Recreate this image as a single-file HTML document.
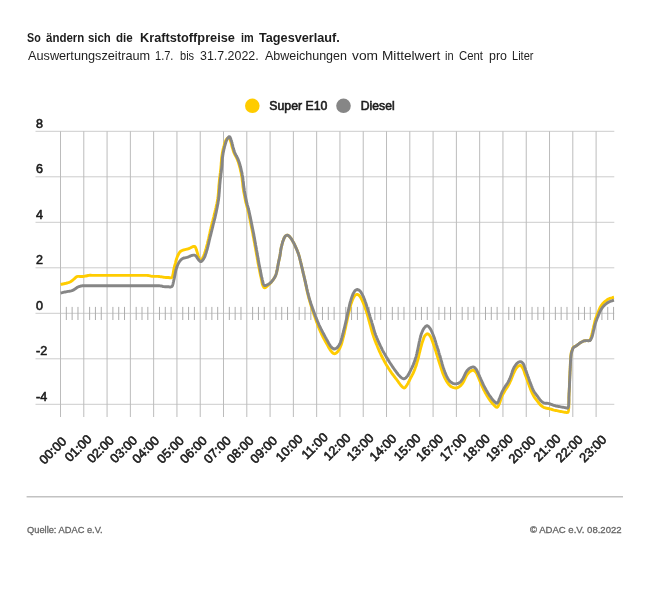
<!DOCTYPE html>
<html lang="de">
<head>
<meta charset="utf-8">
<title>So ändern sich die Kraftstoffpreise im Tagesverlauf</title>
<style>
html,body{margin:0;padding:0;background:#fff;}
body{width:650px;height:591px;position:relative;overflow:hidden;font-family:"Liberation Sans",sans-serif;color:#1c1c1c;}
.t{position:absolute;white-space:nowrap;line-height:1;will-change:transform;}
.t span{position:absolute;top:0;left:0;display:block;transform-origin:0 0;white-space:nowrap;}
#title{left:0;top:32.3px;font-size:12.63px;font-weight:bold;}
#sub{left:0;top:49.2px;font-size:13px;color:#1e1e1e;}
#src{left:26.8px;top:525.5px;font-size:9.3px;color:#666;-webkit-text-stroke:0.3px #666;}
#copy{left:530px;top:525.4px;font-size:9.55px;color:#666;-webkit-text-stroke:0.3px #666;}
svg{position:absolute;left:0;top:0;will-change:transform;}
svg text{font-family:"Liberation Sans",sans-serif;fill:#1c1c1c;}
.yl{font-size:12.5px;stroke:#1c1c1c;stroke-width:0.6px;}
.xl{font-size:12.8px;stroke:#1c1c1c;stroke-width:0.6px;}
.lg{font-size:12.3px;stroke:#1c1c1c;stroke-width:0.6px;}
</style>
</head>
<body>
<div class="t" id="title"><span style="left:27.17px;transform:scaleX(0.8500)">So</span> <span style="left:45.50px;transform:scaleX(0.9087)">ändern</span> <span style="left:87.80px;transform:scaleX(0.9043)">sich</span> <span style="left:115.50px;transform:scaleX(0.9166)">die</span> <span style="left:139.60px;transform:scaleX(1.0098)">Kraftstoffpreise</span> <span style="left:240.60px;transform:scaleX(0.8616)">im</span> <span style="left:258.60px;transform:scaleX(1.0044)">Tagesverlauf.</span></div>
<div class="t" id="sub"><span style="left:27.50px;transform:scaleX(0.9769)">Auswertungszeitraum</span> <span style="left:154.79px;transform:scaleX(0.8500)">1.7.</span> <span style="left:180.02px;transform:scaleX(0.8500)">bis</span> <span style="left:199.70px;transform:scaleX(0.9551)">31.7.2022.</span> <span style="left:264.80px;transform:scaleX(0.9605)">Abweichungen</span> <span style="left:352.02px;transform:scaleX(1.0600)">vom</span> <span style="left:381.55px;transform:scaleX(1.0490)">Mittelwert</span> <span style="left:445.35px;transform:scaleX(0.8500)">in</span> <span style="left:459.20px;transform:scaleX(0.8726)">Cent</span> <span style="left:488.80px;transform:scaleX(0.9537)">pro</span> <span style="left:511.94px;transform:scaleX(0.8500)">Liter</span></div>
<svg width="650" height="591" viewBox="0 0 650 591">
<line x1="35.5" x2="614.3" y1="131.30" y2="131.30" stroke="#cccccc" stroke-width="1"/>
<line x1="35.5" x2="614.3" y1="176.80" y2="176.80" stroke="#cccccc" stroke-width="1"/>
<line x1="35.5" x2="614.3" y1="222.30" y2="222.30" stroke="#cccccc" stroke-width="1"/>
<line x1="35.5" x2="614.3" y1="267.80" y2="267.80" stroke="#cccccc" stroke-width="1"/>
<line x1="35.5" x2="614.3" y1="313.30" y2="313.30" stroke="#cccccc" stroke-width="1"/>
<line x1="35.5" x2="614.3" y1="358.80" y2="358.80" stroke="#cccccc" stroke-width="1"/>
<line x1="35.5" x2="614.3" y1="404.30" y2="404.30" stroke="#cccccc" stroke-width="1"/>
<line x1="60.50" x2="60.50" y1="131.3" y2="417" stroke="#bcbcbc" stroke-width="1"/>
<line x1="83.79" x2="83.79" y1="131.3" y2="417" stroke="#bcbcbc" stroke-width="1"/>
<line x1="107.07" x2="107.07" y1="131.3" y2="417" stroke="#bcbcbc" stroke-width="1"/>
<line x1="130.36" x2="130.36" y1="131.3" y2="417" stroke="#bcbcbc" stroke-width="1"/>
<line x1="153.65" x2="153.65" y1="131.3" y2="417" stroke="#bcbcbc" stroke-width="1"/>
<line x1="176.94" x2="176.94" y1="131.3" y2="417" stroke="#bcbcbc" stroke-width="1"/>
<line x1="200.22" x2="200.22" y1="131.3" y2="417" stroke="#bcbcbc" stroke-width="1"/>
<line x1="223.51" x2="223.51" y1="131.3" y2="417" stroke="#bcbcbc" stroke-width="1"/>
<line x1="246.80" x2="246.80" y1="131.3" y2="417" stroke="#bcbcbc" stroke-width="1"/>
<line x1="270.08" x2="270.08" y1="131.3" y2="417" stroke="#bcbcbc" stroke-width="1"/>
<line x1="293.37" x2="293.37" y1="131.3" y2="417" stroke="#bcbcbc" stroke-width="1"/>
<line x1="316.66" x2="316.66" y1="131.3" y2="417" stroke="#bcbcbc" stroke-width="1"/>
<line x1="339.94" x2="339.94" y1="131.3" y2="417" stroke="#bcbcbc" stroke-width="1"/>
<line x1="363.23" x2="363.23" y1="131.3" y2="417" stroke="#bcbcbc" stroke-width="1"/>
<line x1="386.52" x2="386.52" y1="131.3" y2="417" stroke="#bcbcbc" stroke-width="1"/>
<line x1="409.81" x2="409.81" y1="131.3" y2="417" stroke="#bcbcbc" stroke-width="1"/>
<line x1="433.09" x2="433.09" y1="131.3" y2="417" stroke="#bcbcbc" stroke-width="1"/>
<line x1="456.38" x2="456.38" y1="131.3" y2="417" stroke="#bcbcbc" stroke-width="1"/>
<line x1="479.67" x2="479.67" y1="131.3" y2="417" stroke="#bcbcbc" stroke-width="1"/>
<line x1="502.95" x2="502.95" y1="131.3" y2="417" stroke="#bcbcbc" stroke-width="1"/>
<line x1="526.24" x2="526.24" y1="131.3" y2="417" stroke="#bcbcbc" stroke-width="1"/>
<line x1="549.53" x2="549.53" y1="131.3" y2="417" stroke="#bcbcbc" stroke-width="1"/>
<line x1="572.81" x2="572.81" y1="131.3" y2="417" stroke="#bcbcbc" stroke-width="1"/>
<line x1="596.10" x2="596.10" y1="131.3" y2="417" stroke="#bcbcbc" stroke-width="1"/>
<line x1="66.32" x2="66.32" y1="306.9" y2="320.0" stroke="#adadad" stroke-width="1"/>
<line x1="72.14" x2="72.14" y1="306.9" y2="320.0" stroke="#adadad" stroke-width="1"/>
<line x1="77.97" x2="77.97" y1="306.9" y2="320.0" stroke="#adadad" stroke-width="1"/>
<line x1="89.61" x2="89.61" y1="306.9" y2="320.0" stroke="#adadad" stroke-width="1"/>
<line x1="95.43" x2="95.43" y1="306.9" y2="320.0" stroke="#adadad" stroke-width="1"/>
<line x1="101.25" x2="101.25" y1="306.9" y2="320.0" stroke="#adadad" stroke-width="1"/>
<line x1="112.90" x2="112.90" y1="306.9" y2="320.0" stroke="#adadad" stroke-width="1"/>
<line x1="118.72" x2="118.72" y1="306.9" y2="320.0" stroke="#adadad" stroke-width="1"/>
<line x1="124.54" x2="124.54" y1="306.9" y2="320.0" stroke="#adadad" stroke-width="1"/>
<line x1="136.18" x2="136.18" y1="306.9" y2="320.0" stroke="#adadad" stroke-width="1"/>
<line x1="142.00" x2="142.00" y1="306.9" y2="320.0" stroke="#adadad" stroke-width="1"/>
<line x1="147.83" x2="147.83" y1="306.9" y2="320.0" stroke="#adadad" stroke-width="1"/>
<line x1="159.47" x2="159.47" y1="306.9" y2="320.0" stroke="#adadad" stroke-width="1"/>
<line x1="165.29" x2="165.29" y1="306.9" y2="320.0" stroke="#adadad" stroke-width="1"/>
<line x1="171.11" x2="171.11" y1="306.9" y2="320.0" stroke="#adadad" stroke-width="1"/>
<line x1="182.76" x2="182.76" y1="306.9" y2="320.0" stroke="#adadad" stroke-width="1"/>
<line x1="188.58" x2="188.58" y1="306.9" y2="320.0" stroke="#adadad" stroke-width="1"/>
<line x1="194.40" x2="194.40" y1="306.9" y2="320.0" stroke="#adadad" stroke-width="1"/>
<line x1="206.04" x2="206.04" y1="306.9" y2="320.0" stroke="#adadad" stroke-width="1"/>
<line x1="211.87" x2="211.87" y1="306.9" y2="320.0" stroke="#adadad" stroke-width="1"/>
<line x1="217.69" x2="217.69" y1="306.9" y2="320.0" stroke="#adadad" stroke-width="1"/>
<line x1="229.33" x2="229.33" y1="306.9" y2="320.0" stroke="#adadad" stroke-width="1"/>
<line x1="235.15" x2="235.15" y1="306.9" y2="320.0" stroke="#adadad" stroke-width="1"/>
<line x1="240.97" x2="240.97" y1="306.9" y2="320.0" stroke="#adadad" stroke-width="1"/>
<line x1="252.62" x2="252.62" y1="306.9" y2="320.0" stroke="#adadad" stroke-width="1"/>
<line x1="258.44" x2="258.44" y1="306.9" y2="320.0" stroke="#adadad" stroke-width="1"/>
<line x1="264.26" x2="264.26" y1="306.9" y2="320.0" stroke="#adadad" stroke-width="1"/>
<line x1="275.90" x2="275.90" y1="306.9" y2="320.0" stroke="#adadad" stroke-width="1"/>
<line x1="281.73" x2="281.73" y1="306.9" y2="320.0" stroke="#adadad" stroke-width="1"/>
<line x1="287.55" x2="287.55" y1="306.9" y2="320.0" stroke="#adadad" stroke-width="1"/>
<line x1="299.19" x2="299.19" y1="306.9" y2="320.0" stroke="#adadad" stroke-width="1"/>
<line x1="305.01" x2="305.01" y1="306.9" y2="320.0" stroke="#adadad" stroke-width="1"/>
<line x1="310.84" x2="310.84" y1="306.9" y2="320.0" stroke="#adadad" stroke-width="1"/>
<line x1="322.48" x2="322.48" y1="306.9" y2="320.0" stroke="#adadad" stroke-width="1"/>
<line x1="328.30" x2="328.30" y1="306.9" y2="320.0" stroke="#adadad" stroke-width="1"/>
<line x1="334.12" x2="334.12" y1="306.9" y2="320.0" stroke="#adadad" stroke-width="1"/>
<line x1="345.77" x2="345.77" y1="306.9" y2="320.0" stroke="#adadad" stroke-width="1"/>
<line x1="351.59" x2="351.59" y1="306.9" y2="320.0" stroke="#adadad" stroke-width="1"/>
<line x1="357.41" x2="357.41" y1="306.9" y2="320.0" stroke="#adadad" stroke-width="1"/>
<line x1="369.05" x2="369.05" y1="306.9" y2="320.0" stroke="#adadad" stroke-width="1"/>
<line x1="374.87" x2="374.87" y1="306.9" y2="320.0" stroke="#adadad" stroke-width="1"/>
<line x1="380.70" x2="380.70" y1="306.9" y2="320.0" stroke="#adadad" stroke-width="1"/>
<line x1="392.34" x2="392.34" y1="306.9" y2="320.0" stroke="#adadad" stroke-width="1"/>
<line x1="398.16" x2="398.16" y1="306.9" y2="320.0" stroke="#adadad" stroke-width="1"/>
<line x1="403.98" x2="403.98" y1="306.9" y2="320.0" stroke="#adadad" stroke-width="1"/>
<line x1="415.63" x2="415.63" y1="306.9" y2="320.0" stroke="#adadad" stroke-width="1"/>
<line x1="421.45" x2="421.45" y1="306.9" y2="320.0" stroke="#adadad" stroke-width="1"/>
<line x1="427.27" x2="427.27" y1="306.9" y2="320.0" stroke="#adadad" stroke-width="1"/>
<line x1="438.91" x2="438.91" y1="306.9" y2="320.0" stroke="#adadad" stroke-width="1"/>
<line x1="444.74" x2="444.74" y1="306.9" y2="320.0" stroke="#adadad" stroke-width="1"/>
<line x1="450.56" x2="450.56" y1="306.9" y2="320.0" stroke="#adadad" stroke-width="1"/>
<line x1="462.20" x2="462.20" y1="306.9" y2="320.0" stroke="#adadad" stroke-width="1"/>
<line x1="468.02" x2="468.02" y1="306.9" y2="320.0" stroke="#adadad" stroke-width="1"/>
<line x1="473.84" x2="473.84" y1="306.9" y2="320.0" stroke="#adadad" stroke-width="1"/>
<line x1="485.49" x2="485.49" y1="306.9" y2="320.0" stroke="#adadad" stroke-width="1"/>
<line x1="491.31" x2="491.31" y1="306.9" y2="320.0" stroke="#adadad" stroke-width="1"/>
<line x1="497.13" x2="497.13" y1="306.9" y2="320.0" stroke="#adadad" stroke-width="1"/>
<line x1="508.77" x2="508.77" y1="306.9" y2="320.0" stroke="#adadad" stroke-width="1"/>
<line x1="514.60" x2="514.60" y1="306.9" y2="320.0" stroke="#adadad" stroke-width="1"/>
<line x1="520.42" x2="520.42" y1="306.9" y2="320.0" stroke="#adadad" stroke-width="1"/>
<line x1="532.06" x2="532.06" y1="306.9" y2="320.0" stroke="#adadad" stroke-width="1"/>
<line x1="537.88" x2="537.88" y1="306.9" y2="320.0" stroke="#adadad" stroke-width="1"/>
<line x1="543.71" x2="543.71" y1="306.9" y2="320.0" stroke="#adadad" stroke-width="1"/>
<line x1="555.35" x2="555.35" y1="306.9" y2="320.0" stroke="#adadad" stroke-width="1"/>
<line x1="561.17" x2="561.17" y1="306.9" y2="320.0" stroke="#adadad" stroke-width="1"/>
<line x1="566.99" x2="566.99" y1="306.9" y2="320.0" stroke="#adadad" stroke-width="1"/>
<line x1="578.64" x2="578.64" y1="306.9" y2="320.0" stroke="#adadad" stroke-width="1"/>
<line x1="584.46" x2="584.46" y1="306.9" y2="320.0" stroke="#adadad" stroke-width="1"/>
<line x1="590.28" x2="590.28" y1="306.9" y2="320.0" stroke="#adadad" stroke-width="1"/>
<line x1="601.92" x2="601.92" y1="306.9" y2="320.0" stroke="#adadad" stroke-width="1"/>
<line x1="607.74" x2="607.74" y1="306.9" y2="320.0" stroke="#adadad" stroke-width="1"/>
<line x1="613.57" x2="613.57" y1="306.9" y2="320.0" stroke="#adadad" stroke-width="1"/>
<text x="36" y="127.5" class="yl">8</text>
<text x="36" y="173.0" class="yl">6</text>
<text x="36" y="218.5" class="yl">4</text>
<text x="36" y="264.0" class="yl">2</text>
<text x="36" y="309.5" class="yl">0</text>
<text x="36" y="355.0" class="yl">-2</text>
<text x="36" y="400.5" class="yl">-4</text>
<text transform="translate(52.65,450.35) rotate(-45)" y="4.55" text-anchor="middle" class="xl">00:00</text>
<text transform="translate(78.00,448.05) rotate(-45)" y="4.55" text-anchor="middle" class="xl">01:00</text>
<text transform="translate(100.35,449.25) rotate(-45)" y="4.55" text-anchor="middle" class="xl">02:00</text>
<text transform="translate(123.45,449.25) rotate(-45)" y="4.55" text-anchor="middle" class="xl">03:00</text>
<text transform="translate(145.60,449.60) rotate(-45)" y="4.55" text-anchor="middle" class="xl">04:00</text>
<text transform="translate(170.35,449.60) rotate(-45)" y="4.55" text-anchor="middle" class="xl">05:00</text>
<text transform="translate(193.35,449.60) rotate(-45)" y="4.55" text-anchor="middle" class="xl">06:00</text>
<text transform="translate(217.15,449.60) rotate(-45)" y="4.55" text-anchor="middle" class="xl">07:00</text>
<text transform="translate(240.05,449.60) rotate(-45)" y="4.55" text-anchor="middle" class="xl">08:00</text>
<text transform="translate(263.55,449.60) rotate(-45)" y="4.55" text-anchor="middle" class="xl">09:00</text>
<text transform="translate(289.05,447.85) rotate(-45)" y="4.55" text-anchor="middle" class="xl">10:00</text>
<text transform="translate(314.45,445.80) rotate(-45)" y="4.55" text-anchor="middle" class="xl">11:00</text>
<text transform="translate(336.90,446.70) rotate(-45)" y="4.55" text-anchor="middle" class="xl">12:00</text>
<text transform="translate(360.00,446.90) rotate(-45)" y="4.55" text-anchor="middle" class="xl">13:00</text>
<text transform="translate(382.85,447.50) rotate(-45)" y="4.55" text-anchor="middle" class="xl">14:00</text>
<text transform="translate(407.00,446.95) rotate(-45)" y="4.55" text-anchor="middle" class="xl">15:00</text>
<text transform="translate(429.45,447.50) rotate(-45)" y="4.55" text-anchor="middle" class="xl">16:00</text>
<text transform="translate(453.10,447.15) rotate(-45)" y="4.55" text-anchor="middle" class="xl">17:00</text>
<text transform="translate(476.20,447.50) rotate(-45)" y="4.55" text-anchor="middle" class="xl">18:00</text>
<text transform="translate(499.30,447.50) rotate(-45)" y="4.55" text-anchor="middle" class="xl">19:00</text>
<text transform="translate(521.95,449.40) rotate(-45)" y="4.55" text-anchor="middle" class="xl">20:00</text>
<text transform="translate(546.90,447.65) rotate(-45)" y="4.55" text-anchor="middle" class="xl">21:00</text>
<text transform="translate(568.95,448.55) rotate(-45)" y="4.55" text-anchor="middle" class="xl">22:00</text>
<text transform="translate(592.70,448.55) rotate(-45)" y="4.55" text-anchor="middle" class="xl">23:00</text>
<polyline points="60.6,284.4 61.7,284.2 62.8,284.0 63.9,283.8 65.0,283.5 66.0,283.3 67.0,283.0 68.1,282.7 69.1,282.4 70.0,282.0 70.9,281.5 71.8,280.8 72.7,280.2 73.5,279.5 74.2,278.9 74.9,278.2 75.5,277.6 76.3,277.0 77.0,276.6 78.0,276.4 79.0,276.4 80.0,276.5 81.0,276.5 82.0,276.5 83.0,276.5 84.0,276.4 84.9,276.2 85.9,276.0 87.0,275.8 88.0,275.5 89.0,275.4 89.9,275.3 90.8,275.3 91.8,275.4 93.0,275.4 93.6,275.4 94.2,275.4 95.0,275.4 95.7,275.4 96.5,275.4 97.4,275.4 98.3,275.4 99.3,275.4 100.3,275.4 101.3,275.4 102.4,275.4 103.4,275.4 104.5,275.4 105.7,275.4 106.8,275.4 107.9,275.4 109.1,275.4 110.2,275.4 111.4,275.4 112.5,275.4 113.6,275.4 114.8,275.4 115.9,275.4 116.9,275.4 118.0,275.4 119.0,275.4 120.0,275.4 121.0,275.4 122.1,275.4 123.2,275.4 124.3,275.4 125.4,275.4 126.6,275.4 127.7,275.4 128.9,275.4 130.0,275.4 131.1,275.4 132.2,275.4 133.3,275.4 134.4,275.4 135.5,275.4 136.5,275.4 137.5,275.4 138.5,275.4 139.5,275.4 140.3,275.4 141.2,275.4 142.0,275.4 142.7,275.4 143.4,275.4 144.0,275.4 145.2,275.4 146.2,275.4 147.0,275.4 148.0,275.5 149.0,275.6 150.0,275.8 151.1,276.1 152.1,276.3 153.0,276.4 154.1,276.4 155.0,276.4 156.0,276.4 157.0,276.4 157.9,276.4 159.0,276.5 159.9,276.6 160.9,276.8 162.0,276.9 163.0,277.1 164.1,277.3 165.0,277.4 165.9,277.5 166.8,277.5 167.7,277.5 168.5,277.5 169.6,277.7 170.7,277.9 171.6,277.6 172.0,277.2 172.3,276.5 172.6,275.7 172.9,274.8 173.1,273.7 173.3,272.6 173.5,271.4 173.7,270.2 173.9,269.1 174.2,268.0 174.4,267.0 174.7,266.0 174.9,264.9 175.2,263.9 175.5,262.8 175.7,261.8 176.0,260.7 176.3,259.7 176.6,258.8 176.9,257.9 177.2,257.0 177.6,256.0 178.1,255.0 178.6,254.0 179.1,253.1 179.6,252.4 180.2,251.7 180.9,251.1 181.7,250.7 182.5,250.3 183.3,250.0 184.1,249.8 185.0,249.6 186.0,249.4 186.9,249.2 187.8,249.0 188.8,248.6 189.7,248.2 190.7,247.7 191.6,247.2 192.4,246.9 193.6,246.4 194.7,246.4 195.2,246.8 195.6,247.6 196.0,248.5 196.3,249.6 196.7,250.7 197.0,251.7 197.3,252.7 197.6,253.7 197.9,254.8 198.2,255.9 198.5,256.9 198.9,257.8 199.2,258.6 199.7,259.5 200.2,260.3 200.8,260.6 201.3,260.3 201.8,259.7 202.3,258.8 202.8,257.7 203.3,256.6 203.8,255.5 204.1,254.7 204.4,253.9 204.7,253.0 205.0,252.1 205.3,251.2 205.6,250.2 205.9,249.3 206.2,248.3 206.5,247.2 206.7,246.2 207.0,245.1 207.3,244.1 207.5,243.2 207.8,242.3 208.0,241.3 208.2,240.4 208.4,239.4 208.7,238.4 208.9,237.4 209.1,236.4 209.3,235.4 209.5,234.4 209.8,233.4 210.0,232.4 210.2,231.3 210.4,230.3 210.6,229.3 210.9,228.4 211.1,227.4 211.3,226.4 211.6,225.5 211.8,224.5 212.1,223.5 212.3,222.6 212.5,221.6 212.8,220.6 213.0,219.7 213.3,218.7 213.5,217.8 213.8,216.8 214.0,215.9 214.2,215.0 214.5,214.0 214.7,213.1 214.9,212.2 215.1,211.2 215.4,210.1 215.6,209.1 215.9,208.1 216.1,207.1 216.3,206.1 216.5,205.1 216.8,204.1 217.0,203.1 217.2,202.1 217.4,201.1 217.5,200.1 217.7,199.0 217.8,198.0 218.0,197.1 218.1,196.1 218.2,195.1 218.3,194.1 218.4,193.0 218.5,192.0 218.5,191.0 218.6,189.9 218.7,188.9 218.8,187.9 218.8,186.9 218.9,185.8 219.0,184.8 219.1,183.8 219.2,182.8 219.3,181.8 219.4,180.7 219.5,179.7 219.6,178.7 219.8,177.6 219.9,176.6 220.0,175.6 220.1,174.6 220.2,173.5 220.4,172.5 220.5,171.5 220.6,170.5 220.7,169.5 220.8,168.6 220.9,167.6 221.0,166.5 221.1,165.5 221.2,164.4 221.2,163.4 221.3,162.4 221.4,161.4 221.5,160.3 221.5,159.3 221.6,158.4 221.7,157.4 221.9,156.4 222.0,155.4 222.2,154.4 222.3,153.4 222.5,152.4 222.7,151.3 222.9,150.3 223.1,149.3 223.3,148.4 223.6,147.4 223.8,146.5 224.1,145.6 224.3,144.8 224.6,143.7 225.0,142.6 225.3,141.6 225.7,140.7 226.1,139.9 226.6,139.2 227.3,138.4 228.1,137.8 228.8,137.6 229.4,138.2 229.9,139.3 230.4,140.6 230.7,141.5 231.0,142.4 231.3,143.5 231.6,144.6 231.8,145.7 232.1,146.8 232.4,147.8 232.7,148.7 233.0,149.7 233.2,150.5 233.5,151.4 233.8,152.3 234.2,153.2 234.6,154.0 235.0,154.9 235.5,155.7 235.9,156.6 236.4,157.4 236.8,158.3 237.2,159.2 237.6,160.1 237.9,161.1 238.3,162.0 238.6,163.0 238.9,164.0 239.2,165.0 239.5,166.1 239.7,167.0 240.0,167.9 240.2,168.8 240.4,169.7 240.6,170.7 240.8,171.7 241.1,172.7 241.3,173.7 241.4,174.7 241.6,175.7 241.8,176.7 242.0,177.7 242.1,178.7 242.2,179.7 242.3,180.7 242.5,181.7 242.6,182.7 242.7,183.8 242.8,184.8 242.9,185.8 243.0,186.9 243.2,187.9 243.3,188.9 243.5,189.9 243.6,190.9 243.8,192.0 244.0,193.0 244.2,194.0 244.4,195.0 244.6,196.1 244.8,197.1 245.0,198.1 245.2,199.1 245.4,200.1 245.6,201.1 245.8,202.1 246.0,203.0 246.3,203.9 246.5,204.8 246.8,205.8 247.0,206.7 247.3,207.6 247.5,208.5 247.8,209.5 248.0,210.5 248.3,211.5 248.5,212.5 248.7,213.4 248.9,214.3 249.1,215.2 249.3,216.1 249.5,217.1 249.7,218.1 249.9,219.0 250.1,220.0 250.3,221.0 250.5,222.0 250.7,223.0 250.9,224.1 251.1,225.1 251.3,226.1 251.5,227.1 251.7,228.1 251.9,229.0 252.1,230.0 252.3,231.0 252.5,232.0 252.7,233.0 252.9,233.9 253.0,234.9 253.2,235.9 253.4,236.9 253.6,237.9 253.8,238.8 253.9,239.8 254.1,240.8 254.3,241.8 254.5,242.8 254.7,243.7 254.8,244.7 255.0,245.7 255.2,246.7 255.4,247.7 255.6,248.7 255.7,249.7 255.9,250.7 256.1,251.7 256.3,252.7 256.4,253.8 256.6,254.8 256.8,255.8 257.0,256.8 257.2,257.8 257.3,258.8 257.5,259.8 257.7,260.7 257.8,261.6 258.0,262.5 258.1,263.4 258.3,264.2 258.5,265.3 258.7,266.3 258.9,267.3 259.1,268.2 259.3,269.1 259.5,270.0 259.6,270.9 259.8,271.8 260.0,272.7 260.2,273.8 260.4,274.8 260.6,275.8 260.9,276.8 261.1,277.8 261.3,278.8 261.5,279.8 261.7,280.8 261.9,281.9 262.1,282.9 262.3,283.9 262.6,284.8 262.9,285.6 263.4,286.6 263.9,287.4 264.6,287.8 265.3,287.6 266.1,287.0 266.9,286.3 267.7,285.6 268.4,285.0 269.2,284.4 269.9,283.7 270.6,283.0 271.3,282.2 271.9,281.4 272.6,280.5 273.2,279.7 273.8,278.8 274.4,277.9 274.9,276.9 275.4,276.0 275.8,275.0 276.1,274.1 276.3,273.3 276.6,272.4 276.8,271.4 277.0,270.4 277.2,269.6 277.4,268.7 277.5,267.7 277.7,266.7 277.9,265.8 278.1,264.8 278.3,263.8 278.4,262.9 278.6,262.0 278.8,261.0 279.0,260.1 279.2,259.2 279.4,258.4 279.6,257.5 279.8,256.5 280.0,255.6 280.1,254.6 280.3,253.5 280.4,252.5 280.6,251.4 280.7,250.4 280.9,249.3 281.1,248.3 281.3,247.3 281.5,246.4 281.8,245.4 282.0,244.4 282.3,243.4 282.5,242.5 282.8,241.5 283.1,240.7 283.4,239.9 283.8,238.9 284.2,237.9 284.7,237.1 285.2,236.3 285.7,235.8 286.8,235.3 287.9,235.3 288.7,235.7 289.5,236.5 290.2,237.4 291.0,238.4 291.5,239.1 292.0,239.9 292.5,240.7 292.9,241.5 293.4,242.4 293.9,243.3 294.3,244.3 294.8,245.2 295.2,246.0 295.6,246.9 296.0,247.8 296.4,248.7 296.8,249.6 297.2,250.5 297.5,251.5 297.9,252.4 298.3,253.4 298.6,254.4 298.9,255.3 299.2,256.3 299.5,257.3 299.7,258.3 300.0,259.3 300.2,260.3 300.5,261.3 300.7,262.3 301.0,263.4 301.2,264.4 301.4,265.4 301.7,266.5 301.9,267.4 302.1,268.3 302.4,269.3 302.6,270.2 302.8,271.2 303.0,272.1 303.2,273.1 303.5,274.0 303.7,275.0 303.9,276.0 304.1,276.9 304.3,277.9 304.6,278.9 304.8,279.8 305.0,280.8 305.2,281.7 305.4,282.7 305.6,283.7 305.8,284.6 306.0,285.6 306.2,286.6 306.4,287.5 306.6,288.5 306.8,289.5 307.0,290.4 307.2,291.4 307.4,292.3 307.7,293.3 307.9,294.2 308.1,295.1 308.3,296.0 308.6,297.0 308.8,298.0 309.1,299.0 309.4,299.9 309.6,300.9 309.9,301.8 310.2,302.8 310.5,303.7 310.7,304.6 311.0,305.5 311.3,306.5 311.6,307.4 311.9,308.4 312.2,309.4 312.6,310.4 312.9,311.4 313.3,312.4 313.6,313.4 313.9,314.4 314.3,315.3 314.6,316.3 315.0,317.3 315.3,318.2 315.6,319.2 316.0,320.1 316.3,321.0 316.6,322.0 317.0,322.9 317.3,323.8 317.6,324.7 318.0,325.7 318.3,326.6 318.7,327.5 319.1,328.4 319.5,329.4 319.9,330.3 320.3,331.3 320.7,332.2 321.2,333.2 321.6,334.1 322.0,335.0 322.5,335.9 322.9,336.8 323.4,337.7 323.8,338.6 324.3,339.4 324.8,340.3 325.2,341.1 325.7,342.0 326.2,342.8 326.6,343.6 327.1,344.4 327.6,345.3 328.1,346.2 328.5,347.1 329.0,348.0 329.5,348.8 330.0,349.6 330.5,350.3 331.2,351.2 331.9,352.1 332.7,352.8 333.4,353.4 334.2,353.7 335.0,353.6 335.8,353.2 336.6,352.7 337.3,352.0 337.9,351.4 338.4,350.6 338.9,349.8 339.4,348.9 339.9,348.0 340.3,347.0 340.6,346.2 341.0,345.4 341.3,344.5 341.6,343.6 341.9,342.6 342.1,341.6 342.4,340.7 342.7,339.7 342.9,338.7 343.2,337.7 343.5,336.7 343.7,335.8 343.9,334.8 344.2,333.8 344.4,332.8 344.6,331.8 344.8,330.8 345.0,329.8 345.3,328.7 345.5,327.7 345.7,326.7 345.9,325.7 346.1,324.7 346.3,323.7 346.6,322.7 346.8,321.7 347.0,320.7 347.2,319.7 347.4,318.7 347.6,317.7 347.9,316.7 348.1,315.8 348.3,314.8 348.5,313.7 348.8,312.7 349.0,311.6 349.3,310.6 349.5,309.6 349.7,308.5 350.0,307.5 350.3,306.6 350.5,305.6 350.8,304.7 351.1,303.6 351.5,302.6 351.9,301.5 352.2,300.5 352.6,299.6 353.0,298.7 353.4,297.9 353.9,297.0 354.4,296.2 354.9,295.5 355.5,295.0 356.5,294.5 357.6,294.5 358.5,294.9 359.3,295.7 360.1,296.7 360.6,297.4 361.1,298.2 361.5,299.1 362.0,300.0 362.4,301.0 362.9,302.0 363.2,302.8 363.6,303.6 363.9,304.5 364.3,305.4 364.6,306.3 365.0,307.3 365.3,308.3 365.6,309.2 366.0,310.2 366.3,311.2 366.6,312.2 366.9,313.1 367.2,314.0 367.4,315.0 367.7,315.9 368.0,316.8 368.3,317.8 368.5,318.8 368.8,319.7 369.0,320.7 369.3,321.6 369.6,322.6 369.8,323.6 370.1,324.5 370.4,325.5 370.7,326.5 370.9,327.5 371.2,328.5 371.5,329.5 371.7,330.5 372.0,331.5 372.3,332.5 372.6,333.5 372.9,334.5 373.2,335.4 373.5,336.4 373.8,337.3 374.2,338.3 374.5,339.2 374.9,340.2 375.2,341.1 375.6,342.0 375.9,342.9 376.3,343.8 376.7,344.7 377.1,345.6 377.4,346.5 377.8,347.4 378.2,348.4 378.6,349.3 379.0,350.3 379.4,351.2 379.8,352.1 380.3,353.0 380.7,354.0 381.1,354.9 381.5,355.8 382.0,356.7 382.4,357.6 382.9,358.4 383.3,359.3 383.8,360.1 384.2,361.0 384.7,361.9 385.2,362.7 385.7,363.6 386.1,364.4 386.6,365.2 387.1,366.0 387.6,366.9 388.2,367.8 388.7,368.6 389.3,369.5 389.8,370.3 390.4,371.2 391.0,372.0 391.5,372.8 392.1,373.6 392.7,374.5 393.4,375.3 394.0,376.2 394.7,377.0 395.3,377.9 396.0,378.7 396.6,379.5 397.2,380.3 397.8,381.2 398.4,382.0 399.0,382.9 399.6,383.7 400.2,384.5 400.8,385.3 401.4,385.9 402.1,386.7 402.9,387.4 403.6,387.9 404.3,388.0 404.9,387.7 405.6,387.0 406.2,386.1 406.8,385.2 407.4,384.2 407.9,383.4 408.4,382.5 408.8,381.6 409.3,380.7 409.8,379.7 410.2,378.7 410.7,377.8 411.1,377.0 411.6,376.2 412.0,375.3 412.4,374.5 412.9,373.7 413.3,372.8 413.7,371.9 414.1,371.0 414.4,370.2 414.8,369.3 415.1,368.4 415.4,367.5 415.7,366.6 416.1,365.6 416.4,364.7 416.7,363.7 416.9,362.8 417.2,361.8 417.5,360.9 417.8,360.0 418.0,359.0 418.2,358.1 418.5,357.2 418.7,356.2 418.9,355.3 419.1,354.4 419.3,353.4 419.5,352.5 419.8,351.6 420.0,350.7 420.2,349.7 420.5,348.8 420.7,347.8 421.0,346.8 421.3,345.9 421.5,344.9 421.8,344.0 422.0,343.1 422.3,342.2 422.6,341.4 423.0,340.3 423.4,339.2 423.7,338.1 424.1,337.1 424.6,336.2 425.1,335.5 425.9,334.6 426.8,334.0 427.7,333.8 428.6,334.2 429.4,335.1 430.2,336.2 430.6,336.9 431.0,337.6 431.4,338.5 431.7,339.4 432.1,340.3 432.4,341.3 432.8,342.3 433.1,343.3 433.5,344.3 433.8,345.2 434.1,346.1 434.5,347.1 434.8,348.0 435.1,349.0 435.4,350.0 435.7,350.9 436.0,351.9 436.3,352.9 436.6,353.8 436.9,354.8 437.2,355.7 437.5,356.7 437.8,357.6 438.1,358.5 438.4,359.5 438.6,360.4 438.9,361.3 439.2,362.2 439.5,363.2 439.8,364.1 440.1,365.0 440.4,365.9 440.7,366.9 441.0,367.8 441.3,368.7 441.6,369.7 441.9,370.6 442.2,371.5 442.5,372.4 442.8,373.3 443.2,374.2 443.5,375.0 443.9,375.9 444.3,376.8 444.7,377.7 445.1,378.6 445.6,379.4 446.0,380.2 446.4,381.0 446.9,381.7 447.5,382.7 448.2,383.6 448.9,384.5 449.6,385.3 450.3,386.0 451.1,386.6 452.0,387.0 452.9,387.4 453.7,387.7 454.5,387.9 455.4,388.0 456.2,388.0 457.0,387.8 457.9,387.5 458.8,387.0 459.6,386.5 460.3,385.9 461.0,385.2 461.7,384.4 462.4,383.5 463.0,382.6 463.5,381.8 463.9,381.0 464.3,380.1 464.7,379.2 465.1,378.3 465.5,377.5 465.9,376.7 466.4,375.8 466.9,375.0 467.5,374.2 468.0,373.5 468.6,372.8 469.5,371.9 470.5,371.2 471.4,370.7 472.5,370.4 473.6,370.4 474.4,370.8 475.2,371.5 476.0,372.4 476.5,373.1 476.9,373.9 477.3,374.9 477.7,375.8 478.2,376.9 478.6,377.9 479.0,378.9 479.4,379.7 479.7,380.6 480.1,381.5 480.5,382.4 480.9,383.3 481.2,384.2 481.6,385.1 482.0,385.9 482.4,386.8 482.8,387.7 483.2,388.5 483.6,389.4 484.0,390.3 484.5,391.1 484.9,391.9 485.3,392.8 485.8,393.6 486.3,394.5 486.8,395.3 487.3,396.2 487.8,397.0 488.4,397.9 488.9,398.7 489.4,399.5 490.0,400.3 490.6,401.1 491.2,401.9 491.8,402.7 492.5,403.5 493.1,404.2 493.7,404.8 494.3,405.4 495.3,406.3 496.2,407.1 497.1,407.3 497.7,406.9 498.3,406.0 498.8,404.9 499.3,403.7 499.6,402.9 500.0,402.0 500.3,401.1 500.6,400.1 500.9,399.1 501.3,398.1 501.6,397.1 502.0,396.2 502.4,395.3 502.9,394.4 503.3,393.5 503.8,392.7 504.3,391.9 504.7,391.1 505.2,390.3 505.7,389.4 506.3,388.6 506.8,387.8 507.4,387.0 507.9,386.1 508.4,385.2 508.9,384.3 509.4,383.3 509.9,382.3 510.3,381.3 510.8,380.3 511.2,379.4 511.5,378.5 511.9,377.6 512.2,376.7 512.6,375.7 513.0,374.8 513.3,373.9 513.7,373.1 514.2,372.1 514.6,371.1 515.1,370.2 515.6,369.3 516.1,368.5 516.6,367.8 517.3,367.0 518.0,366.4 518.7,365.9 519.7,365.5 520.6,365.5 521.3,366.0 521.9,366.8 522.5,367.8 523.1,368.8 523.5,369.6 523.9,370.6 524.2,371.5 524.5,372.5 524.8,373.6 525.2,374.6 525.5,375.5 525.9,376.5 526.3,377.5 526.6,378.5 527.0,379.5 527.4,380.5 527.7,381.5 528.1,382.5 528.5,383.5 528.8,384.5 529.2,385.5 529.5,386.5 529.9,387.5 530.3,388.5 530.6,389.5 531.0,390.4 531.4,391.4 531.9,392.4 532.3,393.4 532.8,394.4 533.3,395.3 533.8,396.2 534.3,397.1 534.9,397.9 535.5,398.8 536.2,399.6 536.8,400.4 537.4,401.2 538.0,402.0 538.6,402.7 539.2,403.5 539.8,404.2 540.4,404.9 541.0,405.5 541.9,406.2 542.7,406.8 543.6,407.3 544.6,407.7 545.4,408.0 546.3,408.2 547.2,408.3 548.1,408.5 549.0,408.7 550.0,409.0 551.0,409.2 552.0,409.5 553.0,409.8 554.0,410.1 554.9,410.3 555.9,410.5 556.8,410.7 557.8,410.9 558.7,411.1 559.7,411.3 560.7,411.5 561.7,411.7 562.8,411.9 563.8,412.1 564.7,412.2 565.5,412.3 566.7,412.6 567.7,412.4 568.0,412.1 568.2,411.6 568.4,410.9 568.5,410.2 568.6,409.3 568.7,408.3 568.8,407.2 568.8,406.1 568.8,404.9 568.9,403.7 568.9,402.4 568.9,401.1 568.9,399.8 568.9,398.6 568.9,397.3 568.9,396.1 569.0,395.0 569.1,394.1 569.1,393.1 569.1,392.2 569.2,391.2 569.2,390.2 569.3,389.2 569.3,388.2 569.4,387.2 569.4,386.1 569.4,385.1 569.5,384.1 569.5,383.0 569.5,382.0 569.6,381.0 569.6,379.9 569.7,378.9 569.7,377.9 569.7,376.8 569.8,375.8 569.8,374.8 569.9,373.9 569.9,372.9 570.0,371.9 570.0,371.0 570.1,369.9 570.1,368.8 570.2,367.7 570.2,366.6 570.3,365.4 570.3,364.3 570.4,363.2 570.4,362.1 570.5,361.0 570.5,359.9 570.6,358.9 570.7,357.9 570.7,356.9 570.8,356.0 570.9,355.2 571.0,354.4 571.1,353.7 571.2,353.0 571.4,351.9 571.7,350.9 572.0,350.2 572.3,349.4 572.7,348.3 573.2,347.4 573.9,346.9 574.7,346.5 575.6,346.1 576.5,345.6 577.2,345.1 578.0,344.5 578.8,343.9 579.5,343.3 580.3,342.8 581.2,342.2 582.2,341.7 583.2,341.2 584.1,340.9 585.2,340.7 586.3,340.6 587.3,340.6 588.6,340.7 589.7,340.4 590.2,339.9 590.5,339.1 590.9,338.2 591.1,337.2 591.4,336.1 591.7,335.1 592.0,334.2 592.2,333.2 592.5,332.2 592.7,331.1 592.9,330.0 593.1,329.0 593.4,327.9 593.6,326.9 593.8,325.9 594.1,325.0 594.3,324.0 594.5,323.1 594.7,322.1 595.0,321.2 595.2,320.2 595.5,319.3 595.8,318.3 596.2,317.2 596.6,316.2 596.9,315.2 597.3,314.2 597.7,313.3 598.1,312.3 598.5,311.3 598.9,310.3 599.3,309.3 599.7,308.4 600.1,307.5 600.6,306.6 601.2,305.7 601.8,304.8 602.4,304.0 603.1,303.2 603.8,302.5 604.5,301.8 605.3,301.2 606.1,300.6 606.8,300.1 607.6,299.6 608.4,299.1 609.2,298.7 610.0,298.4 610.8,298.1 611.9,297.8 612.9,297.5 614.0,297.3" fill="none" stroke="#ffcc00" stroke-width="2.9" stroke-linejoin="round" stroke-linecap="butt"/>
<polyline points="60.6,293.0 61.5,292.8 62.4,292.6 63.3,292.4 64.2,292.2 65.1,292.0 66.0,291.8 67.0,291.6 68.1,291.4 69.1,291.3 70.2,291.1 71.1,290.9 72.0,290.6 73.1,290.1 74.1,289.6 75.0,289.0 75.7,288.5 76.5,288.0 77.2,287.4 78.0,287.0 78.9,286.6 79.9,286.3 81.0,286.0 82.0,285.8 82.9,285.7 83.8,285.7 84.7,285.8 86.0,285.8 86.5,285.8 87.1,285.8 87.8,285.8 88.5,285.8 89.2,285.8 90.0,285.8 90.8,285.8 91.7,285.8 92.6,285.8 93.5,285.8 94.5,285.8 95.5,285.8 96.5,285.8 97.6,285.8 98.7,285.8 99.7,285.8 100.9,285.8 102.0,285.8 103.1,285.8 104.3,285.8 105.4,285.8 106.6,285.8 107.8,285.8 108.9,285.8 110.1,285.8 111.2,285.8 112.4,285.8 113.5,285.8 114.6,285.8 115.8,285.8 116.8,285.8 117.9,285.8 119.0,285.8 120.0,285.8 121.0,285.8 122.0,285.8 123.1,285.8 124.2,285.8 125.2,285.8 126.4,285.8 127.5,285.8 128.6,285.8 129.8,285.8 130.9,285.8 132.1,285.8 133.3,285.8 134.4,285.8 135.6,285.8 136.8,285.8 137.9,285.8 139.1,285.8 140.2,285.8 141.3,285.8 142.4,285.8 143.5,285.8 144.6,285.8 145.6,285.8 146.6,285.8 147.6,285.8 148.6,285.8 149.5,285.8 150.4,285.8 151.3,285.8 152.1,285.8 152.8,285.8 153.6,285.8 154.3,285.8 154.9,285.8 155.5,285.8 156.0,285.8 157.3,285.8 158.3,285.8 159.1,285.8 160.0,285.9 161.0,286.0 162.0,286.2 163.0,286.5 164.0,286.6 165.0,286.7 166.0,286.7 167.0,286.7 168.0,286.7 168.9,286.8 169.9,287.0 170.8,287.0 171.6,286.7 172.1,286.2 172.5,285.5 172.8,284.6 173.1,283.6 173.3,282.5 173.6,281.3 173.8,280.2 174.1,279.1 174.3,278.2 174.5,277.3 174.7,276.3 174.9,275.3 175.1,274.3 175.3,273.3 175.5,272.2 175.7,271.3 175.9,270.3 176.1,269.4 176.4,268.5 176.7,267.5 177.1,266.6 177.4,265.6 177.8,264.7 178.2,263.9 178.6,263.1 179.1,262.3 179.5,261.6 180.2,260.7 180.9,259.9 181.6,259.2 182.5,258.6 183.3,258.2 184.1,258.0 185.0,257.8 186.0,257.6 186.9,257.4 187.8,257.1 188.7,256.8 189.7,256.3 190.6,255.9 191.6,255.5 192.4,255.3 193.2,255.1 194.4,255.1 195.4,255.5 196.0,256.1 196.6,256.9 197.1,257.8 197.7,258.6 198.4,259.5 199.2,260.5 200.0,261.3 200.8,261.6 201.6,261.3 202.3,260.6 203.1,259.6 203.8,258.6 204.2,257.9 204.6,257.1 205.0,256.2 205.3,255.3 205.6,254.3 206.0,253.3 206.3,252.3 206.6,251.2 206.9,250.2 207.2,249.3 207.4,248.5 207.6,247.6 207.9,246.6 208.1,245.7 208.3,244.7 208.6,243.8 208.8,242.8 209.0,241.8 209.2,240.9 209.4,239.9 209.7,238.9 209.9,238.0 210.1,237.0 210.4,236.0 210.7,235.0 210.9,234.0 211.2,232.9 211.4,231.9 211.7,230.9 211.9,229.9 212.2,228.9 212.4,227.9 212.7,226.9 212.9,225.9 213.1,224.9 213.4,223.9 213.6,223.0 213.9,222.0 214.1,221.0 214.4,220.0 214.6,219.1 214.9,218.1 215.1,217.1 215.3,216.1 215.6,215.0 215.8,214.0 216.0,213.1 216.2,212.1 216.4,211.1 216.6,210.1 216.8,209.2 217.0,208.2 217.2,207.2 217.4,206.2 217.6,205.1 217.8,204.1 218.0,203.1 218.1,202.1 218.3,201.0 218.5,200.0 218.6,199.0 218.7,198.0 218.8,197.0 219.0,196.0 219.0,195.0 219.1,194.0 219.2,193.0 219.3,191.9 219.4,190.9 219.4,189.9 219.5,188.9 219.6,187.8 219.7,186.8 219.7,185.8 219.8,184.8 219.9,183.8 220.0,182.8 220.1,181.8 220.2,180.7 220.3,179.7 220.4,178.7 220.6,177.6 220.7,176.6 220.8,175.6 220.9,174.6 221.0,173.5 221.2,172.5 221.3,171.5 221.4,170.5 221.5,169.5 221.6,168.6 221.7,167.6 221.8,166.5 221.9,165.5 222.0,164.4 222.0,163.4 222.1,162.4 222.2,161.4 222.3,160.3 222.3,159.3 222.4,158.4 222.5,157.4 222.7,156.4 222.8,155.4 223.0,154.4 223.1,153.4 223.3,152.4 223.5,151.4 223.7,150.4 223.9,149.4 224.2,148.4 224.4,147.4 224.6,146.5 224.9,145.6 225.1,144.8 225.4,143.8 225.7,142.8 226.0,141.9 226.3,141.0 226.7,140.1 227.0,139.4 227.4,138.7 228.1,137.7 228.8,136.9 229.4,136.6 229.9,137.0 230.4,137.9 230.8,139.0 231.2,140.2 231.5,141.0 231.7,141.9 232.0,142.9 232.2,143.9 232.5,144.9 232.7,145.9 232.9,146.9 233.2,147.8 233.5,148.8 233.8,149.7 234.0,150.6 234.3,151.4 234.6,152.3 235.0,153.2 235.4,154.0 235.8,154.9 236.3,155.7 236.7,156.6 237.2,157.4 237.6,158.3 238.0,159.2 238.4,160.1 238.7,161.1 239.1,162.0 239.4,163.0 239.7,164.0 240.0,165.0 240.3,166.1 240.5,167.0 240.8,167.9 241.0,168.8 241.2,169.7 241.4,170.7 241.6,171.7 241.9,172.7 242.1,173.7 242.2,174.7 242.4,175.7 242.6,176.7 242.8,177.7 242.9,178.7 243.0,179.7 243.1,180.7 243.3,181.7 243.4,182.7 243.5,183.8 243.6,184.8 243.7,185.8 243.8,186.9 244.0,187.9 244.1,188.9 244.3,189.9 244.4,190.9 244.6,192.0 244.8,193.0 245.0,194.0 245.2,195.0 245.4,196.1 245.6,197.1 245.8,198.1 246.0,199.1 246.2,200.1 246.4,201.1 246.6,202.1 246.8,203.0 247.1,203.9 247.3,204.8 247.6,205.8 247.8,206.7 248.1,207.6 248.3,208.5 248.6,209.5 248.8,210.5 249.1,211.5 249.3,212.5 249.5,213.4 249.7,214.3 249.9,215.2 250.1,216.1 250.3,217.1 250.5,218.1 250.7,219.0 250.9,220.0 251.1,221.0 251.3,222.0 251.5,223.0 251.7,224.1 251.9,225.1 252.1,226.1 252.3,227.1 252.5,228.1 252.7,229.0 252.9,230.0 253.1,231.0 253.3,232.0 253.5,233.0 253.7,233.9 253.8,234.9 254.0,235.9 254.2,236.9 254.4,237.9 254.6,238.8 254.7,239.8 254.9,240.8 255.1,241.8 255.3,242.8 255.5,243.7 255.6,244.7 255.8,245.7 256.0,246.7 256.2,247.7 256.4,248.7 256.5,249.7 256.7,250.7 256.9,251.7 257.1,252.7 257.2,253.8 257.4,254.8 257.6,255.8 257.8,256.8 258.0,257.8 258.1,258.8 258.3,259.8 258.5,260.7 258.6,261.6 258.8,262.5 258.9,263.4 259.1,264.2 259.3,265.3 259.5,266.3 259.7,267.3 259.9,268.2 260.1,269.1 260.3,270.0 260.4,270.9 260.6,271.8 260.8,272.7 261.0,273.8 261.2,274.8 261.4,275.9 261.6,276.9 261.9,277.9 262.1,278.9 262.3,279.8 262.6,280.9 262.8,282.0 263.1,283.0 263.3,283.9 263.7,284.6 264.3,285.3 265.0,285.6 265.8,285.5 266.8,285.1 267.7,284.6 268.4,284.2 269.2,283.7 269.9,283.2 270.6,282.6 271.3,281.9 272.0,281.2 272.6,280.4 273.2,279.6 273.8,278.8 274.4,277.9 274.9,277.0 275.4,276.0 275.8,275.0 276.1,274.1 276.3,273.3 276.6,272.4 276.8,271.4 277.0,270.4 277.2,269.6 277.4,268.7 277.5,267.7 277.7,266.7 277.9,265.8 278.1,264.8 278.3,263.8 278.4,262.9 278.6,262.0 278.8,261.0 279.0,260.1 279.2,259.2 279.4,258.4 279.6,257.5 279.8,256.5 280.0,255.6 280.1,254.6 280.3,253.5 280.4,252.5 280.6,251.4 280.7,250.4 280.9,249.3 281.1,248.3 281.3,247.3 281.5,246.4 281.8,245.4 282.0,244.4 282.3,243.4 282.5,242.5 282.8,241.5 283.1,240.7 283.4,239.9 283.8,238.9 284.2,237.9 284.7,237.1 285.2,236.3 285.7,235.8 286.8,235.3 287.9,235.3 288.7,235.7 289.5,236.5 290.2,237.4 291.0,238.4 291.5,239.1 292.0,239.9 292.5,240.7 292.9,241.5 293.4,242.4 293.9,243.3 294.3,244.3 294.8,245.2 295.2,246.0 295.6,246.9 296.0,247.8 296.4,248.7 296.8,249.6 297.2,250.5 297.5,251.5 297.9,252.4 298.3,253.4 298.6,254.4 298.9,255.3 299.2,256.3 299.5,257.3 299.7,258.3 300.0,259.3 300.2,260.3 300.5,261.3 300.7,262.3 301.0,263.4 301.2,264.4 301.4,265.5 301.7,266.5 301.9,267.5 302.2,268.4 302.4,269.4 302.6,270.4 302.9,271.4 303.1,272.4 303.3,273.4 303.6,274.4 303.8,275.4 304.1,276.4 304.3,277.5 304.5,278.5 304.8,279.5 305.0,280.5 305.2,281.5 305.5,282.5 305.7,283.5 305.9,284.5 306.1,285.5 306.4,286.5 306.6,287.6 306.8,288.6 307.1,289.6 307.3,290.6 307.5,291.6 307.8,292.6 308.0,293.5 308.3,294.5 308.5,295.4 308.8,296.4 309.0,297.3 309.3,298.3 309.6,299.2 309.9,300.2 310.2,301.1 310.4,302.0 310.7,302.9 311.0,303.8 311.3,304.6 311.6,305.5 311.9,306.4 312.2,307.4 312.6,308.3 312.9,309.3 313.2,310.2 313.6,311.1 313.9,312.1 314.3,313.0 314.6,313.9 315.0,314.8 315.3,315.7 315.7,316.7 316.0,317.6 316.4,318.5 316.8,319.5 317.1,320.4 317.5,321.3 317.9,322.2 318.3,323.2 318.7,324.1 319.1,325.1 319.6,326.0 320.0,327.0 320.5,327.9 321.0,328.9 321.5,329.8 321.9,330.8 322.4,331.7 322.9,332.6 323.4,333.5 323.8,334.3 324.3,335.2 324.8,336.1 325.2,336.9 325.7,337.8 326.2,338.6 326.6,339.4 327.1,340.2 327.6,341.1 328.1,342.0 328.5,342.9 329.0,343.8 329.5,344.6 330.0,345.4 330.5,346.1 331.2,346.9 331.9,347.6 332.7,348.3 333.5,348.8 334.2,349.0 335.3,348.8 336.3,348.3 337.3,347.5 337.9,346.9 338.4,346.2 338.9,345.4 339.4,344.6 339.9,343.7 340.3,342.7 340.6,341.9 340.9,341.1 341.2,340.2 341.5,339.3 341.7,338.4 342.0,337.4 342.2,336.5 342.5,335.5 342.7,334.5 343.0,333.5 343.2,332.6 343.4,331.7 343.7,330.8 343.9,329.8 344.1,328.9 344.4,328.0 344.6,327.1 344.8,326.2 345.0,325.2 345.3,324.3 345.5,323.4 345.7,322.4 345.9,321.4 346.1,320.5 346.4,319.5 346.6,318.5 346.8,317.5 347.0,316.5 347.2,315.5 347.4,314.5 347.6,313.5 347.9,312.5 348.1,311.6 348.3,310.6 348.5,309.6 348.7,308.7 349.0,307.7 349.2,306.8 349.4,305.8 349.6,304.9 349.8,303.9 350.1,303.0 350.3,302.1 350.5,301.2 350.8,300.4 351.1,299.4 351.4,298.4 351.7,297.5 352.0,296.6 352.4,295.7 352.7,294.8 353.0,294.0 353.4,293.3 353.9,292.4 354.4,291.6 354.9,290.9 355.5,290.3 356.5,289.7 357.6,289.5 358.4,289.8 359.3,290.4 360.1,291.1 360.7,291.8 361.2,292.6 361.7,293.5 362.2,294.4 362.7,295.4 363.1,296.2 363.5,297.0 363.8,297.9 364.2,298.7 364.5,299.6 364.9,300.6 365.2,301.5 365.6,302.5 365.9,303.4 366.2,304.3 366.5,305.2 366.8,306.1 367.1,307.1 367.4,308.0 367.7,309.0 368.0,310.0 368.3,311.0 368.6,311.9 368.9,312.9 369.2,313.8 369.5,314.7 369.8,315.7 370.0,316.6 370.3,317.5 370.6,318.5 370.9,319.4 371.2,320.3 371.5,321.3 371.8,322.2 372.0,323.1 372.3,324.0 372.6,325.0 372.9,326.0 373.2,327.0 373.4,328.0 373.7,328.9 374.0,329.9 374.3,330.9 374.5,331.8 374.9,332.8 375.2,333.8 375.5,334.7 375.9,335.7 376.3,336.6 376.7,337.6 377.1,338.5 377.5,339.4 377.9,340.4 378.3,341.3 378.7,342.2 379.1,343.1 379.5,344.0 380.0,345.0 380.4,345.9 380.9,346.9 381.3,347.8 381.8,348.7 382.2,349.6 382.7,350.6 383.2,351.5 383.7,352.4 384.2,353.3 384.7,354.1 385.2,355.0 385.7,355.8 386.2,356.7 386.7,357.5 387.2,358.4 387.8,359.2 388.3,360.1 388.8,360.9 389.3,361.8 389.9,362.6 390.4,363.5 391.0,364.3 391.6,365.2 392.1,366.0 392.7,366.9 393.2,367.7 393.8,368.5 394.4,369.4 395.1,370.3 395.7,371.2 396.4,372.1 397.0,373.0 397.7,373.8 398.3,374.6 398.9,375.3 399.6,376.0 400.3,376.7 401.0,377.4 401.7,377.9 402.3,378.3 403.3,378.8 404.3,378.8 405.1,378.4 405.9,377.8 406.6,377.0 407.4,376.1 407.9,375.4 408.4,374.6 408.9,373.8 409.3,372.9 409.8,372.0 410.2,371.1 410.7,370.2 411.1,369.3 411.6,368.4 412.0,367.5 412.5,366.5 412.9,365.5 413.3,364.6 413.7,363.6 414.1,362.6 414.4,361.7 414.7,360.8 415.1,359.9 415.3,358.9 415.6,358.0 415.9,357.1 416.2,356.1 416.4,355.1 416.7,354.1 416.9,353.2 417.1,352.2 417.4,351.3 417.6,350.3 417.8,349.3 418.0,348.2 418.2,347.2 418.4,346.2 418.6,345.2 418.8,344.2 419.0,343.2 419.2,342.3 419.4,341.3 419.7,340.3 419.9,339.3 420.1,338.3 420.4,337.4 420.6,336.4 420.9,335.5 421.1,334.6 421.4,333.8 421.7,333.0 422.1,332.0 422.5,331.1 422.9,330.2 423.3,329.3 423.8,328.6 424.3,327.9 425.0,327.1 425.7,326.4 426.4,325.9 427.1,325.7 427.9,326.0 428.7,326.7 429.5,327.6 430.2,328.6 430.7,329.3 431.1,330.1 431.5,331.0 431.9,331.9 432.3,332.8 432.7,333.8 433.1,334.8 433.5,335.8 433.8,336.7 434.2,337.5 434.5,338.4 434.8,339.4 435.1,340.3 435.4,341.2 435.7,342.2 436.0,343.2 436.3,344.1 436.6,345.1 436.9,346.0 437.2,346.9 437.5,347.9 437.8,348.8 438.1,349.8 438.4,350.7 438.7,351.7 438.9,352.6 439.2,353.6 439.5,354.6 439.8,355.5 440.1,356.5 440.4,357.5 440.7,358.4 440.9,359.4 441.2,360.4 441.5,361.4 441.8,362.4 442.0,363.4 442.3,364.4 442.6,365.4 442.9,366.4 443.2,367.3 443.5,368.2 443.9,369.2 444.2,370.2 444.6,371.2 444.9,372.2 445.3,373.2 445.7,374.1 446.1,375.0 446.5,375.9 446.9,376.7 447.4,377.7 448.0,378.6 448.5,379.5 449.1,380.3 449.7,381.1 450.3,381.7 451.1,382.3 452.0,382.9 452.9,383.3 453.7,383.6 454.5,383.8 455.4,383.9 456.2,383.9 457.0,383.7 457.9,383.5 458.8,383.1 459.6,382.6 460.3,382.0 461.1,381.2 461.7,380.3 462.4,379.4 463.0,378.4 463.5,377.6 463.9,376.7 464.3,375.8 464.7,374.9 465.1,374.0 465.5,373.2 465.9,372.4 466.5,371.4 467.2,370.5 467.9,369.7 468.6,369.0 469.5,368.3 470.5,367.8 471.4,367.4 472.5,367.0 473.6,367.0 474.4,367.4 475.2,368.1 476.0,369.0 476.5,369.7 476.9,370.4 477.3,371.3 477.7,372.2 478.2,373.1 478.6,374.1 479.0,375.0 479.4,375.9 479.8,376.8 480.3,377.8 480.7,378.8 481.1,379.7 481.5,380.7 482.0,381.7 482.4,382.6 482.8,383.5 483.2,384.3 483.6,385.2 484.0,386.0 484.5,386.8 484.9,387.6 485.3,388.5 485.8,389.3 486.3,390.2 486.8,391.0 487.3,391.9 487.8,392.8 488.4,393.6 488.9,394.5 489.4,395.3 490.0,396.1 490.6,396.9 491.2,397.8 491.8,398.7 492.5,399.5 493.1,400.2 493.7,400.9 494.3,401.5 495.3,402.3 496.2,403.0 497.1,403.1 497.6,402.7 498.1,402.0 498.5,401.0 498.9,399.9 499.3,398.9 499.7,398.0 500.1,397.1 500.4,396.1 500.8,395.1 501.2,394.1 501.6,393.1 502.0,392.2 502.4,391.3 502.9,390.5 503.3,389.6 503.8,388.8 504.3,387.9 504.7,387.2 505.2,386.4 505.7,385.6 506.3,384.8 506.8,384.1 507.4,383.3 507.9,382.5 508.3,381.7 508.8,380.8 509.2,379.9 509.6,378.9 510.0,378.0 510.4,377.0 510.8,376.0 511.2,375.0 511.5,374.0 511.9,373.0 512.2,371.9 512.6,370.9 512.9,369.9 513.3,369.0 513.7,368.1 514.2,367.1 514.8,366.2 515.4,365.3 516.0,364.5 516.6,363.8 517.3,363.1 518.0,362.5 518.7,362.1 519.6,361.7 520.6,361.6 521.5,362.0 522.3,362.6 523.1,363.5 523.5,364.2 523.9,365.0 524.2,365.9 524.5,366.8 524.9,367.8 525.2,368.8 525.5,369.7 525.9,370.7 526.3,371.6 526.6,372.6 527.0,373.7 527.4,374.7 527.7,375.7 528.1,376.7 528.5,377.7 528.8,378.7 529.2,379.7 529.5,380.7 529.9,381.7 530.3,382.7 530.6,383.7 531.0,384.6 531.4,385.6 531.8,386.5 532.1,387.5 532.5,388.4 532.9,389.3 533.3,390.2 533.8,391.1 534.3,392.0 534.9,392.9 535.5,393.7 536.2,394.6 536.8,395.4 537.4,396.2 538.0,397.0 538.6,397.9 539.2,398.7 539.8,399.5 540.4,400.3 541.0,400.9 541.7,401.5 542.4,402.1 543.1,402.5 543.9,402.9 544.8,403.1 545.8,403.3 546.9,403.3 548.0,403.4 549.0,403.6 550.0,403.9 551.0,404.3 552.0,404.7 553.0,405.1 554.0,405.5 554.9,405.7 555.9,406.0 556.8,406.2 557.8,406.3 558.7,406.5 559.7,406.7 560.7,406.9 561.7,407.1 562.8,407.2 563.8,407.4 564.7,407.6 565.5,407.7 566.7,408.1 567.7,408.1 568.0,407.8 568.2,407.3 568.4,406.7 568.5,406.0 568.6,405.1 568.7,404.2 568.8,403.1 568.8,402.0 568.9,400.9 568.9,399.7 568.9,398.4 568.9,397.2 569.0,396.0 569.0,394.8 569.0,393.7 569.1,392.6 569.2,391.7 569.2,390.8 569.3,389.8 569.3,388.9 569.4,387.9 569.4,386.9 569.5,385.9 569.5,384.9 569.5,383.9 569.6,382.9 569.6,381.9 569.7,380.9 569.7,379.8 569.7,378.8 569.8,377.8 569.8,376.8 569.9,375.8 569.9,374.8 570.0,373.9 570.0,372.9 570.0,371.9 570.1,371.0 570.2,369.9 570.2,368.8 570.3,367.7 570.3,366.5 570.4,365.4 570.4,364.2 570.5,363.1 570.5,362.0 570.6,360.9 570.7,359.8 570.7,358.8 570.8,357.8 570.9,356.9 571.0,356.0 571.1,355.2 571.2,354.4 571.3,353.7 571.6,352.5 571.9,351.5 572.2,350.6 572.5,349.8 572.8,348.7 573.3,347.8 573.9,347.2 574.7,346.7 575.6,346.2 576.5,345.7 577.2,345.1 578.0,344.5 578.8,343.9 579.5,343.3 580.3,342.8 581.2,342.2 582.2,341.7 583.2,341.2 584.1,340.9 585.2,340.7 586.3,340.6 587.3,340.6 588.6,340.7 589.8,340.6 590.5,339.9 591.1,338.9 591.7,337.7 592.0,336.9 592.3,336.0 592.6,334.9 592.8,333.9 593.1,332.8 593.3,331.7 593.6,330.7 593.8,329.8 594.1,328.8 594.3,327.9 594.5,326.9 594.7,325.9 595.0,325.0 595.2,324.0 595.5,323.1 595.8,322.1 596.2,321.0 596.6,320.0 596.9,319.0 597.3,318.0 597.7,317.1 598.1,316.1 598.5,315.1 598.9,314.1 599.3,313.1 599.7,312.2 600.1,311.3 600.6,310.4 601.1,309.6 601.6,308.8 602.1,308.0 602.6,307.3 603.2,306.6 603.8,305.9 604.5,305.2 605.3,304.5 606.0,303.9 606.8,303.3 607.6,302.8 608.4,302.3 609.2,301.9 610.0,301.5 610.8,301.2 611.9,300.8 612.9,300.5 614.0,300.2" fill="none" stroke="#868686" stroke-width="2.9" stroke-linejoin="round" stroke-linecap="butt"/>
<circle cx="252.3" cy="105.8" r="7.3" fill="#ffcc00"/>
<circle cx="343.5" cy="105.8" r="7.3" fill="#868686"/>
<text x="269.3" y="110" class="lg">Super E10</text>
<text x="360.8" y="110" class="lg" textLength="33.8" lengthAdjust="spacingAndGlyphs">Diesel</text>
<line x1="26.6" x2="623" y1="496.8" y2="496.8" stroke="#c2c2c2" stroke-width="1.6"/>
</svg>
<div class="t" id="src">Quelle: ADAC e.V.</div>
<div class="t" id="copy">© ADAC e.V. 08.2022</div>
</body>
</html>
